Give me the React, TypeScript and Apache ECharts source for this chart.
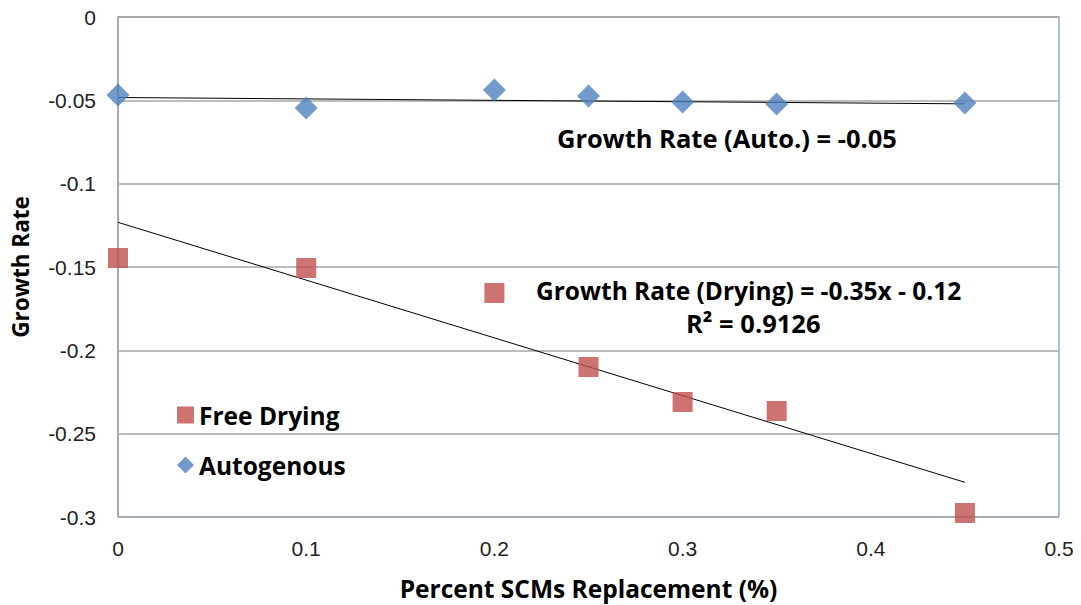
import React, { useEffect, useRef } from "react";
import * as echarts from "echarts";

const xValues = [0, 0.1, 0.2, 0.25, 0.3, 0.35, 0.45];
const autogenous = [-0.0468, -0.0546, -0.0438, -0.0474, -0.051, -0.0522, -0.0516];
const freeDrying = [-0.1446, -0.1506, -0.1656, -0.21, -0.231, -0.2364, -0.2976];
const autoTrend = [[0, -0.0483], [0.45, -0.0521]];
const dryTrend = [[0, -0.1232], [0.45, -0.2792]];
const annotations = ["Growth Rate (Auto.) = -0.05", "Growth Rate (Drying) = -0.35x - 0.12", "R² = 0.9126"];

export default function App() {
  const ref = useRef<HTMLDivElement>(null);
  useEffect(() => {
    const chart = echarts.init(ref.current!, null, { renderer: "svg" });
    const bold = { fontFamily: "'Open Sans', Lato, sans-serif", fontWeight: "bold" as const, color: "#000" };
    const tickFont = { fontFamily: "'Liberation Sans Narrow', 'Liberation Sans', sans-serif", fontSize: 21, color: "#222" };
    const fmt = (v: number) => String(Math.round(v * 100) / 100);
    chart.setOption({
      animation: false,
      backgroundColor: "#fff",
      grid: {
        left: 118, right: 22, top: 17, bottom: 88, show: true, borderColor: "#4F81BD", borderWidth: 1,
        containLabel: false, outerBoundsMode: "none",
      },
      xAxis: {
        type: "value", min: 0, max: 0.5, interval: 0.1,
        name: "Percent SCMs Replacement (%)", nameLocation: "middle", nameGap: 59,
        nameTextStyle: { ...bold, fontSize: 24.5 },
        axisLine: { show: true, lineStyle: { color: "#A6A6A6", width: 1.5 } },
        axisTick: { show: false },
        splitLine: { show: false },
        axisLabel: { ...tickFont, margin: 21, formatter: fmt },
      },
      yAxis: {
        type: "value", min: -0.3, max: 0, interval: 0.05,
        name: "Growth Rate", nameLocation: "middle", nameGap: 86,
        nameTextStyle: { ...bold, fontSize: 22.5 },
        axisLine: { show: true, lineStyle: { color: "#A6A6A6", width: 1.5 } },
        axisTick: { show: false },
        splitLine: { show: true, lineStyle: { color: "#A6A6A6", width: 1.5 } },
        axisLabel: { ...tickFont, margin: 22, formatter: fmt },
      },
      legend: {
        orient: "vertical", left: 172, top: 396, itemGap: 22, itemWidth: 17, itemHeight: 17,
        data: [{ name: "Free Drying", icon: "rect" }, { name: "Autogenous", icon: "diamond" }],
        textStyle: { ...bold, fontSize: 24.5, lineHeight: 28 },
      },
      series: [
        { type: "line", data: autoTrend, symbol: "none", lineStyle: { color: "#000", width: 1 }, z: 3, silent: true },
        { type: "line", data: dryTrend, symbol: "none", lineStyle: { color: "#000", width: 1 }, z: 3, silent: true },
        {
          name: "Free Drying", type: "scatter", symbol: "rect", symbolSize: 20,
          itemStyle: { color: "#C0504D" }, z: 4,
          data: xValues.map((x, i) => [x, freeDrying[i]]),
        },
        {
          name: "Autogenous", type: "scatter", symbol: "diamond", symbolSize: 23,
          itemStyle: { color: "#4F81BD" }, z: 4,
          data: xValues.map((x, i) => [x, autogenous[i]]),
        },
      ],
      graphic: [
        { type: "text", left: 557, top: 125, style: { text: annotations[0], ...bold, fill: "#000", fontSize: 25.5 } },
        { type: "text", left: 536, top: 278, style: { text: annotations[1], ...bold, fill: "#000", fontSize: 24.5 } },
        { type: "text", left: 686, top: 310, style: { text: annotations[2], ...bold, fill: "#000", fontSize: 25.5 } },
      ],
    });
    return () => chart.dispose();
  }, []);
  return <div ref={ref} style={{ position: "fixed", left: 0, top: 0, width: 1081, height: 605 }} />;
}
